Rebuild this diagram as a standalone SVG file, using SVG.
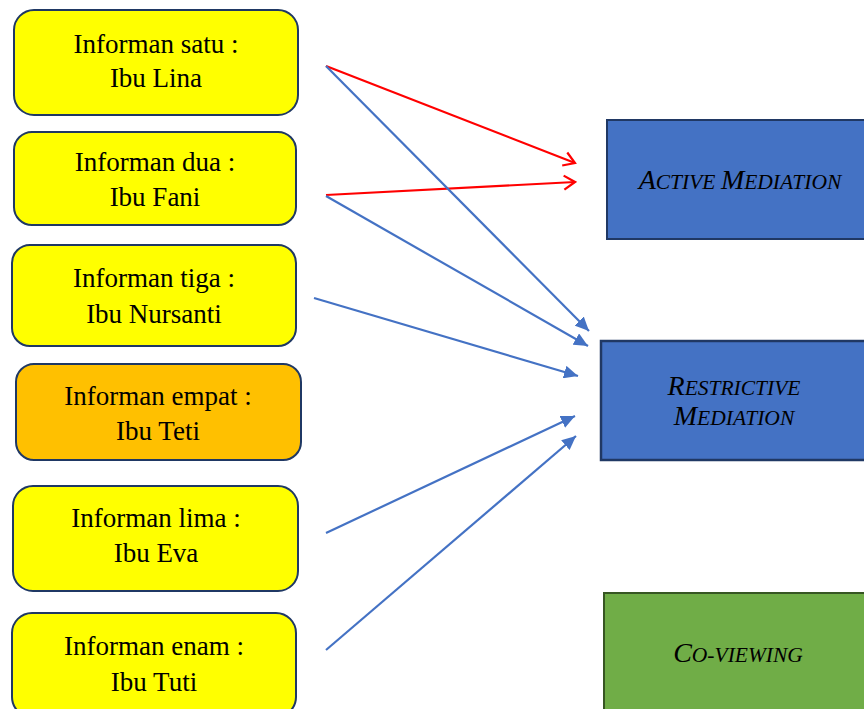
<svg xmlns="http://www.w3.org/2000/svg" width="864" height="709" viewBox="0 0 864 709">
<defs>
<style>
.inf{stroke:#1F3864;stroke-width:2}
.y{fill:#FFFF00}
.o{fill:#FFC000}
.t{font-family:"Liberation Serif","Times New Roman",serif;font-size:27px;fill:#000;text-anchor:middle}
.m{font-family:"Liberation Serif","Times New Roman",serif;font-style:italic;fill:#000;text-anchor:middle;font-size:21.5px}
.big{font-size:28px}
.blue{fill:#4472C4;stroke:#203864;stroke-width:2}
.green{fill:#70AD47;stroke:#375623;stroke-width:2}
.cb{stroke:#4472C4;stroke-width:2.2;fill:none;marker-end:url(#ab)}
.cr{stroke:#FF0000;stroke-width:2.2;fill:none;marker-end:url(#ar)}
</style>
<marker id="ab" markerUnits="userSpaceOnUse" markerWidth="15" markerHeight="13" refX="14" refY="6.5" orient="auto" viewBox="0 0 15 13">
<path d="M0,0 L14,6.5 L0,13 z" fill="#4472C4"/>
</marker>
<marker id="ar" markerUnits="userSpaceOnUse" markerWidth="14" markerHeight="18" refX="12" refY="8" orient="auto" viewBox="0 0 14 16">
<path d="M1,1 L12,8 L1,15" fill="none" stroke="#FF0000" stroke-width="2.2"/>
</marker>
</defs>
<g id="connectors">
<line class="cr" x1="326" y1="66" x2="575" y2="163"/>
<line class="cr" x1="326" y1="195" x2="575" y2="182"/>
<line class="cb" x1="326" y1="66" x2="589" y2="331"/>
<line class="cb" x1="326" y1="196" x2="588" y2="346"/>
<line class="cb" x1="314" y1="298" x2="578" y2="376"/>
<line class="cb" x1="326" y1="533" x2="575" y2="416"/>
<line class="cb" x1="326" y1="650" x2="576" y2="436"/>
</g>
<g id="n1">
<rect class="inf y" x="14" y="10" width="284" height="105" rx="20"/>
<text class="t" x="156" y="53">Informan satu :</text>
<text class="t" x="156" y="87">Ibu Lina</text>
</g>
<g id="n2">
<rect class="inf y" x="14" y="132" width="282" height="93" rx="18"/>
<text class="t" x="155" y="171">Informan dua :</text>
<text class="t" x="155" y="206">Ibu Fani</text>
</g>
<g id="n3">
<rect class="inf y" x="12" y="245" width="284" height="101" rx="18"/>
<text class="t" x="154" y="287">Informan tiga :</text>
<text class="t" x="154" y="323">Ibu Nursanti</text>
</g>
<g id="n4">
<rect class="inf o" x="16" y="364" width="285" height="96" rx="18"/>
<text class="t" x="158" y="405">Informan empat :</text>
<text class="t" x="158" y="440">Ibu Teti</text>
</g>
<g id="n5">
<rect class="inf y" x="13" y="486" width="285" height="105" rx="20"/>
<text class="t" x="156" y="527">Informan lima :</text>
<text class="t" x="156" y="562">Ibu Eva</text>
</g>
<g id="n6">
<rect class="inf y" x="12" y="613" width="284" height="104" rx="20"/>
<text class="t" x="154" y="655">Informan enam :</text>
<text class="t" x="154" y="691">Ibu Tuti</text>
</g>
<g id="active">
<rect class="blue" x="607" y="120" width="270" height="119"/>
<text class="m" x="740" y="189"><tspan class="big">A</tspan>CTIVE <tspan class="big">M</tspan>EDIATION</text>
</g>
<g id="restrictive">
<rect class="blue" x="601" y="341" width="276" height="119" style="stroke-width:2.5"/>
<text class="m" x="734" y="395"><tspan class="big">R</tspan>ESTRICTIVE</text>
<text class="m" x="734" y="425"><tspan class="big">M</tspan>EDIATION</text>
</g>
<g id="coviewing">
<rect class="green" x="604" y="593" width="270" height="130"/>
<text class="m" x="738" y="662"><tspan class="big">C</tspan>O-VIEWING</text>
</g>
</svg>
